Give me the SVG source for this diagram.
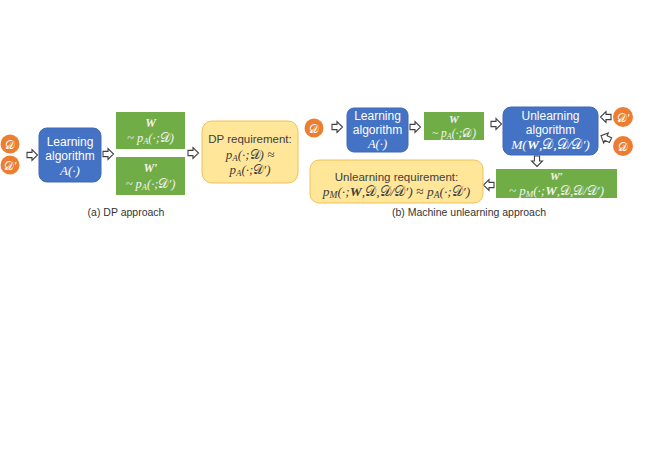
<svg xmlns="http://www.w3.org/2000/svg" xmlns:xlink="http://www.w3.org/1999/xlink" width="646" height="458" viewBox="0 0 646 458">
<style>
.t{font-family:"Liberation Sans",Arial,sans-serif;text-anchor:middle}
.m{font-family:"Liberation Serif","DejaVu Serif",serif;font-style:italic;text-anchor:middle}
.s{font-style:normal;font-family:"DejaVu Serif","DejaVu Sans",serif}
.blue{fill:#4472C4;stroke:#3E69B5;stroke-width:1}
.green{fill:#70AD47}
.yel{fill:#FFE699;stroke:#F2C15A;stroke-width:1}
.orange{fill:#ED7D31}
.w{fill:#FFFFFF}
.g{fill:#F2F2F2}
.d{fill:#404040}
.cap{fill:#333333;font-size:10.5px}
.arr{fill:#FFFFFF;stroke:#404040;stroke-width:1.1;stroke-linejoin:miter}
</style>
<defs>
<path id="ba" class="arr" d="M-5,-2.6 H0 V-5.5 L5.5,0 L0,5.5 V2.6 H-5 Z"/>
</defs>
<rect width="646" height="458" fill="#FFFFFF"/>

<g id="connectors">
<use xlink:href="#ba" transform="translate(32,155)"/>
<use xlink:href="#ba" transform="translate(108,154)"/>
<use xlink:href="#ba" transform="translate(193,153)"/>
<use xlink:href="#ba" transform="translate(337,127)"/>
<use xlink:href="#ba" transform="translate(415,127)"/>
<use xlink:href="#ba" transform="translate(496,124)"/>
<use xlink:href="#ba" transform="translate(606,117) rotate(180)"/>
<use xlink:href="#ba" transform="translate(606,138) rotate(205)"/>
<use xlink:href="#ba" transform="translate(537,161) rotate(90)"/>
<use xlink:href="#ba" transform="translate(489,185) rotate(180)"/>
</g>

<g id="a-D">
<circle class="orange" cx="10" cy="144" r="9.5"/>
<text class="m w" x="10" y="148.5" font-size="12"><tspan class="s">𝒟</tspan></text>
</g>
<g id="a-Dp">
<circle class="orange" cx="10" cy="165" r="9.5"/>
<text class="m w" x="10" y="169.5" font-size="12"><tspan class="s">𝒟</tspan>′</text>
</g>
<g id="a-learn">
<rect class="blue" x="39" y="128" width="62" height="54" rx="8"/>
<text class="t w" x="70" y="146" font-size="12">Learning</text>
<text class="t w" x="70" y="160" font-size="12">algorithm</text>
<text class="m w" x="70" y="175" font-size="13">A(·)</text>
</g>
<g id="a-W">
<rect class="green" x="116" y="112" width="69" height="37"/>
<text class="m g" x="150.5" y="127" font-size="12" font-weight="bold">W</text>
<text class="m g" x="150.5" y="142" font-size="12.5">~ p<tspan font-size="8.5" dy="2">A</tspan><tspan dy="-2">(·;<tspan class="s">𝒟</tspan>)</tspan></text>
</g>
<g id="a-Wp">
<rect class="green" x="116" y="157" width="69" height="38"/>
<text class="m g" x="150.5" y="172" font-size="12" font-weight="bold">W′</text>
<text class="m g" x="150.5" y="188" font-size="12.5">~ p<tspan font-size="8.5" dy="2">A</tspan><tspan dy="-2">(·;<tspan class="s">𝒟</tspan>′)</tspan></text>
</g>
<g id="a-req">
<rect class="yel" x="202" y="121" width="96" height="62" rx="10"/>
<text class="t d" x="250" y="143" font-size="11.5">DP requirement:</text>
<text class="m d" x="250" y="159" font-size="13">p<tspan font-size="9" dy="2">A</tspan><tspan dy="-2">(·;<tspan class="s">𝒟</tspan>) ≈</tspan></text>
<text class="m d" x="250" y="174" font-size="13">p<tspan font-size="9" dy="2">A</tspan><tspan dy="-2">(·;<tspan class="s">𝒟</tspan>′)</tspan></text>
</g>
<text class="t cap" x="126" y="216">(a) DP approach</text>

<g id="b-D">
<circle class="orange" cx="314" cy="128" r="9.5"/>
<text class="m w" x="314" y="132.5" font-size="12"><tspan class="s">𝒟</tspan></text>
</g>
<g id="b-learn">
<rect class="blue" x="347" y="108" width="61" height="44" rx="7"/>
<text class="t w" x="377.5" y="120" font-size="12">Learning</text>
<text class="t w" x="377.5" y="134" font-size="12">algorithm</text>
<text class="m w" x="377.5" y="148" font-size="12.5">A(·)</text>
</g>
<g id="b-W">
<rect class="green" x="424" y="112" width="60" height="28"/>
<text class="m g" x="454" y="123" font-size="11" font-weight="bold">W</text>
<text class="m g" x="454" y="136.5" font-size="11.5">~ p<tspan font-size="8" dy="2">A</tspan><tspan dy="-2">(·;<tspan class="s">𝒟</tspan>)</tspan></text>
</g>
<g id="b-unlearn">
<rect class="blue" x="503" y="107" width="95" height="48" rx="8"/>
<text class="t w" x="550.5" y="120" font-size="12">Unlearning</text>
<text class="t w" x="550.5" y="134" font-size="12">algorithm</text>
<text class="m w" x="550.5" y="149" font-size="13.5">M(<tspan font-weight="bold">W</tspan>,<tspan class="s">𝒟</tspan>,<tspan class="s">𝒟</tspan>/<tspan class="s">𝒟</tspan>′)</text>
</g>
<g id="b-Dp">
<circle class="orange" cx="623" cy="117" r="10"/>
<text class="m w" x="623" y="121.5" font-size="12"><tspan class="s">𝒟</tspan>′</text>
</g>
<g id="b-D2">
<circle class="orange" cx="623" cy="146" r="10"/>
<text class="m w" x="623" y="150.5" font-size="12"><tspan class="s">𝒟</tspan></text>
</g>
<g id="b-Wp">
<rect class="green" x="496" y="169" width="121" height="29"/>
<text class="m g" x="556.5" y="180" font-size="11" font-weight="bold">W′</text>
<text class="m g" x="556.5" y="194.5" font-size="13">~ p<tspan font-size="9" dy="2">M</tspan><tspan dy="-2">(·;<tspan font-weight="bold">W</tspan>,<tspan class="s">𝒟</tspan>,<tspan class="s">𝒟</tspan>/<tspan class="s">𝒟</tspan>′)</tspan></text>
</g>
<g id="b-req">
<rect class="yel" x="310" y="160" width="173" height="43" rx="9"/>
<text class="t d" x="396.5" y="181" font-size="11.5">Unlearning requirement:</text>
<text class="m d" x="396.5" y="196" font-size="13.5">p<tspan font-size="9.5" dy="2">M</tspan><tspan dy="-2">(·;<tspan font-weight="bold">W</tspan>,<tspan class="s">𝒟</tspan>,<tspan class="s">𝒟</tspan>/<tspan class="s">𝒟</tspan>′) ≈ p</tspan><tspan font-size="9.5" dy="2">A</tspan><tspan dy="-2">(·;<tspan class="s">𝒟</tspan>′)</tspan></text>
</g>
<text class="t cap" x="469" y="216">(b) Machine unlearning approach</text>
</svg>
